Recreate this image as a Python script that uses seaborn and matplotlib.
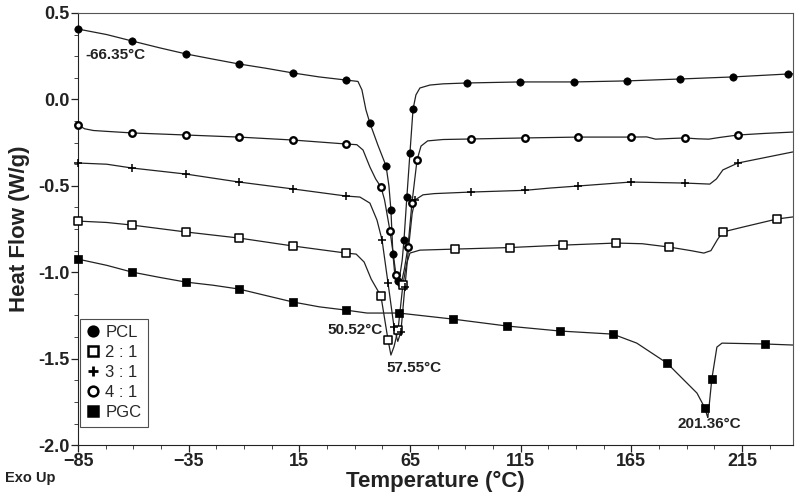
import numpy as np
import pandas as pd
import matplotlib.pyplot as plt
import seaborn as sns
from matplotlib.lines import Line2D
from matplotlib.ticker import AutoMinorLocator, FixedLocator

# DSC traces: temperature (C) and heat flow (W/g)
pcl_t = [-85, -72, -60.6, -48, -36.2, -24, -12.3, 0, 12.1, 24, 36.1, 41.5, 43.3, 45.1, 46.9,
         50.5, 54.2, 55.5, 56.4, 57.3, 58.2, 59.2, 60.3, 61.5, 62.3, 63.6, 65.0, 66.4, 67.7,
         69.5, 74, 80, 90.7, 114.7, 139.1, 163.0, 187.0, 210.9, 235.8, 238]
pcl_hf = [0.407, 0.375, 0.338, 0.298, 0.263, 0.233, 0.205, 0.180, 0.153, 0.130, 0.112, 0.104, 0.055,
          -0.06, -0.137, -0.264, -0.385, -0.50, -0.640, -0.895, -1.02, -1.065, -1.03, -0.93, -0.814,
          -0.565, -0.310, -0.056, 0.026, 0.066, 0.083, 0.090, 0.095, 0.101, 0.101, 0.107, 0.118,
          0.130, 0.147, 0.148]

r41_t = [-85, -82, -78, -72, -60.6, -36.2, -12.3, 12.1, 36.1, 41.0, 43.8, 46.9, 49.5, 51.9, 53.5,
         56.0, 57.5, 58.7, 59.8, 61, 62.5, 64.1, 65.9, 68.2, 70, 73, 80, 92.6, 117.0, 141.0,
         164.9, 172, 176, 183, 189.3, 195, 200, 205, 213.2, 225, 238]
r41_hf = [-0.148, -0.17, -0.18, -0.185, -0.194, -0.206, -0.218, -0.235, -0.258, -0.262, -0.293,
          -0.391, -0.46, -0.507, -0.58, -0.762, -0.90, -1.016, -1.08, -1.07, -0.98, -0.854, -0.600,
          -0.351, -0.27, -0.24, -0.232, -0.229, -0.223, -0.218, -0.218, -0.217, -0.230, -0.226,
          -0.223, -0.228, -0.230, -0.220, -0.206, -0.197, -0.189]

r31_t = [-85, -72, -60.6, -36.2, -12.3, 12.1, 36.1, 42.4, 46.9, 50.1, 52.4, 55.1, 57.8, 59.5,
         60.9, 62.7, 64.6, 66, 67.3, 70.9, 76, 92.6, 117, 128.2, 141.0, 164.9, 189.3, 200.5,
         203.5, 206.4, 213.2, 238]
r31_hf = [-0.368, -0.375, -0.397, -0.432, -0.478, -0.518, -0.559, -0.565, -0.60, -0.698, -0.814,
          -1.063, -1.317, -1.40, -1.346, -1.086, -0.83, -0.66, -0.582, -0.552, -0.545, -0.536,
          -0.526, -0.513, -0.501, -0.478, -0.484, -0.490, -0.46, -0.408, -0.368, -0.304]

r21_t = [-85, -72, -60.6, -36.2, -12.3, 12.1, 36.1, 40.7, 44.3, 47.5, 51.9, 55.1, 56.4, 57.8,
         59.6, 61.8, 63.5, 65.0, 69.5, 85.3, 110.2, 134.1, 158.1, 170, 182.0, 192, 197.8, 201,
         204, 206.4, 215, 230.8, 238]
r21_hf = [-0.704, -0.712, -0.727, -0.767, -0.802, -0.848, -0.889, -0.895, -0.941, -1.04, -1.138,
          -1.392, -1.479, -1.43, -1.334, -1.074, -0.95, -0.889, -0.872, -0.866, -0.857, -0.843,
          -0.831, -0.835, -0.854, -0.875, -0.889, -0.875, -0.81, -0.767, -0.74, -0.692, -0.680]

pgc_t = [-85, -72, -60.6, -48, -36.2, -24, -12.3, 0, 12.1, 24, 36.1, 45.6, 60.0, 84.4, 108.8,
         132.8, 156.7, 167.5, 181.1, 194.7, 198.3, 199.2, 199.6, 200.3, 201.4, 203.7, 206.0, 225.4, 238]
pgc_hf = [-0.924, -0.96, -0.999, -1.03, -1.057, -1.075, -1.097, -1.135, -1.172, -1.20, -1.219,
          -1.236, -1.236, -1.271, -1.311, -1.340, -1.358, -1.41, -1.525, -1.699, -1.786, -1.826,
          -1.84, -1.76, -1.618, -1.433, -1.410, -1.415, -1.421]

# symbol positions on each trace
pcl_mt = [-85, -60.6, -36.2, -12.3, 12.1, 36.1, 46.9, 54.2, 56.4, 57.3, 59.6, 62.3, 63.6, 65.0,
          66.4, 90.7, 114.7, 139.1, 163.0, 187.0, 210.9, 235.8]
pcl_mv = [0.407, 0.338, 0.263, 0.205, 0.153, 0.112, -0.137, -0.385, -0.640, -0.895, -1.05,
          -0.814, -0.565, -0.310, -0.056, 0.095, 0.101, 0.101, 0.107, 0.118, 0.130, 0.147]
r41_mt = [-85, -60.6, -36.2, -12.3, 12.1, 36.1, 51.9, 56.0, 58.7, 64.1, 65.9, 68.2, 92.6, 117.0,
          141.0, 164.9, 189.3, 213.2]
r41_mv = [-0.148, -0.194, -0.206, -0.218, -0.235, -0.258, -0.507, -0.762, -1.016, -0.854, -0.600,
          -0.351, -0.229, -0.223, -0.218, -0.218, -0.223, -0.206]
r31_mt = [-85, -60.6, -36.2, -12.3, 12.1, 36.1, 52.4, 55.1, 57.8, 60.9, 62.7, 67.3, 92.6, 117,
          141.0, 164.9, 189.3, 213.2]
r31_mv = [-0.368, -0.397, -0.432, -0.478, -0.518, -0.559, -0.814, -1.063, -1.317, -1.346, -1.086,
          -0.582, -0.536, -0.526, -0.501, -0.478, -0.484, -0.368]
r21_mt = [-85, -60.6, -36.2, -12.3, 12.1, 36.1, 51.9, 55.1, 59.6, 61.8, 85.3, 110.2, 134.1,
          158.1, 182.0, 206.4, 230.8]
r21_mv = [-0.704, -0.727, -0.767, -0.802, -0.848, -0.889, -1.138, -1.392, -1.334, -1.074, -0.866,
          -0.857, -0.843, -0.831, -0.854, -0.767, -0.692]
pgc_mt = [-85, -60.6, -36.2, -12.3, 12.1, 36.1, 60.0, 84.4, 108.8, 132.8, 156.7, 181.1, 198.3,
          201.4, 225.4]
pgc_mv = [-0.924, -0.999, -1.057, -1.097, -1.172, -1.219, -1.236, -1.271, -1.311, -1.340, -1.358,
          -1.525, -1.786, -1.618, -1.415]

names = ['PCL', '2 : 1', '3 : 1', '4 : 1', 'PGC']
lines = {'PCL': (pcl_t, pcl_hf), '2 : 1': (r21_t, r21_hf), '3 : 1': (r31_t, r31_hf),
         '4 : 1': (r41_t, r41_hf), 'PGC': (pgc_t, pgc_hf)}
marks = {'PCL': (pcl_mt, pcl_mv), '2 : 1': (r21_mt, r21_mv), '3 : 1': (r31_mt, r31_mv),
         '4 : 1': (r41_mt, r41_mv), 'PGC': (pgc_mt, pgc_mv)}

peak_labels = ['-66.35°C', '50.52°C', '57.55°C', '201.36°C']
peak_pos = [(-68.3, 0.257), (40.1, -1.334), (66.8, -1.554), (200.5, -1.878)]

sns.set_style('ticks')
plt.rcParams['font.family'] = ['Liberation Sans', 'DejaVu Sans']

line_df = pd.concat([pd.DataFrame({'T': lines[n][0], 'hf': lines[n][1], 'series': n}) for n in names])
mark_df = pd.concat([pd.DataFrame({'T': marks[n][0], 'hf': marks[n][1], 'series': n}) for n in names])

fig, ax = plt.subplots(figsize=(8, 4.99), dpi=100)
fig.subplots_adjust(left=0.0975, right=0.991, top=0.974, bottom=0.108)

sns.lineplot(data=line_df, x='T', y='hf', units='series', estimator=None, sort=False,
             color='#222222', lw=0.9, ax=ax)

style = {'PCL': dict(marker='o', fc='black', s=28, lw=0.5),
         '2 : 1': dict(marker='s', fc='white', s=30, lw=1.1),
         '3 : 1': dict(marker='+', fc='black', s=34, lw=1.1),
         '4 : 1': dict(marker='o', fc='white', s=22, lw=1.7),
         'PGC': dict(marker='s', fc='black', s=26, lw=0.5)}
for n in names:
    st = style[n]
    sub = mark_df[mark_df['series'] == n]
    sns.scatterplot(data=sub, x='T', y='hf', marker=st['marker'], s=st['s'],
                    facecolor=st['fc'], edgecolor='black', color='black',
                    linewidth=st['lw'], ax=ax, zorder=3, clip_on=False)

ax.set_xlim(-85, 238)
ax.set_ylim(-2.0, 0.5)
ax.xaxis.set_major_locator(FixedLocator([-85, -35, 15, 65, 115, 165, 215]))
ax.set_yticks([-2.0, -1.5, -1.0, -0.5, 0.0, 0.5])
ax.set_yticklabels(['-2.0', '-1.5', '-1.0', '-0.5', '0.0', '0.5'])
ax.xaxis.set_minor_locator(AutoMinorLocator(4))
ax.yaxis.set_minor_locator(AutoMinorLocator(4))
ax.tick_params(which='major', length=5, width=0.9, direction='out', colors='#222222')
ax.tick_params(which='minor', length=3, width=0.7, direction='out', colors='#444444')
ax.tick_params(axis='both', which='major', labelsize=13, pad=1)
for lab in ax.get_xticklabels() + ax.get_yticklabels():
    lab.set_fontweight('bold')
    lab.set_color('#222222')
for sp in ax.spines.values():
    sp.set_visible(True)
    sp.set_linewidth(0.8)
    sp.set_color('#555555')
ax.spines['left'].set_color('#222222')
ax.spines['bottom'].set_color('#222222')

ax.set_xlabel('Temperature (°C)', fontsize=16, fontweight='bold', color='#222222', labelpad=0)
ax.set_ylabel('Heat Flow (W/g)', fontsize=16, fontweight='bold', color='#222222', labelpad=6)

for txt, (tx, ty) in zip(peak_labels, peak_pos):
    ax.text(tx, ty, txt, ha='center', va='center', fontsize=11, fontweight='bold', color='#222222')

fig.text(0.006, 0.042, 'Exo Up', fontsize=10.5, fontweight='bold', color='#222222', va='center')

handles = [Line2D([], [], ls='none', marker=style[n]['marker'], markersize=7,
                  markerfacecolor=style[n]['fc'], markeredgecolor='black',
                  markeredgewidth=1.8 if n != '3 : 1' else 2.0) for n in names]
leg = ax.legend(handles, names, loc='lower left', bbox_to_anchor=(0.003, 0.042),
                frameon=True, fancybox=False, fontsize=12, handlelength=0.8,
                handletextpad=0.3, borderpad=0.4, labelspacing=0.3, borderaxespad=0)
leg.get_frame().set_edgecolor('#222222')
leg.get_frame().set_linewidth(0.8)

fig.savefig('out.png', dpi=100)
